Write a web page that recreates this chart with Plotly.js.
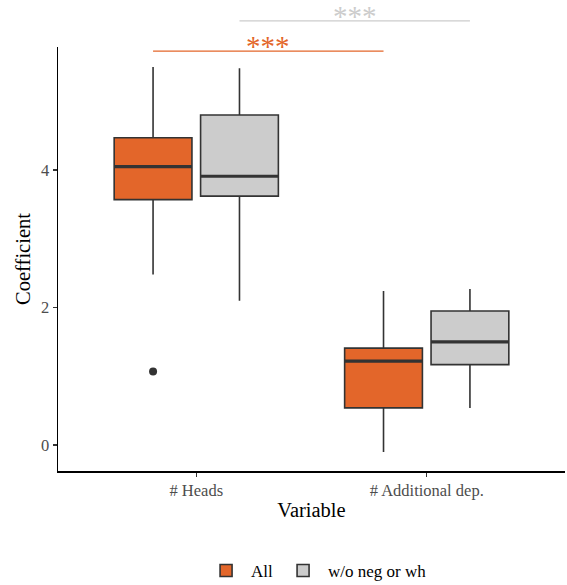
<!DOCTYPE html>
<html>
<head>
<meta charset="utf-8">
<script src="https://cdn.plot.ly/plotly-3.0.1.min.js"></script>
<style>html,body{margin:0;padding:0;background:#fff;}#chart{width:567px;height:585px;}</style>
</head>
<body>
<div id="chart"></div>
<script>
// ---- data ----
const categories = ['# Heads', '# Additional dep.'];
const seriesNames = ['All', 'w/o neg or wh'];
const seriesColors = ['#E3662A', '#CCCCCC'];
const sigColors = ['#E3662A', '#CCCCCC'];

const allLower  = [2.48, -0.10];
const allQ1     = [3.57, 0.54];
const allMedian = [4.05, 1.22];
const allQ3     = [4.47, 1.41];
const allUpper  = [5.50, 2.24];
const allOutliers = [[1.07], []];

const woLower  = [2.10, 0.54];
const woQ1     = [3.62, 1.17];
const woMedian = [3.91, 1.50];
const woQ3     = [4.80, 1.95];
const woUpper  = [5.48, 2.27];
const woOutliers = [[], []];

const sigLabels = ['***', '***'];
const sigLevels = [5.73, 6.17];

// ---- layout helpers ----
const FONT = 'Liberation Serif, Times New Roman, serif';
const dodge = 0.1875, boxW = 0.3375;
const yRange = [-0.378, 5.79];
const offsets = [-dodge, dodge];
const stats = [
  {lo: allLower, q1: allQ1, med: allMedian, q3: allQ3, hi: allUpper, out: allOutliers},
  {lo: woLower, q1: woQ1, med: woMedian, q3: woQ3, hi: woUpper, out: woOutliers}
];

const traces = [];
const shapes = [];
const annotations = [];
stats.forEach((s, k) => {
  const xs = categories.map((c, i) => i + offsets[k]);
  traces.push({
    type: 'box', name: seriesNames[k], x: xs,
    q1: s.q1, median: s.med, q3: s.q3, lowerfence: s.lo, upperfence: s.hi,
    width: boxW, whiskerwidth: 0, boxpoints: false,
    fillcolor: seriesColors[k], line: {color: '#333333', width: 1.6},
    hoverinfo: 'skip'
  });
  // outliers
  const ox = [], oy = [];
  s.out.forEach((arr, i) => arr.forEach(v => { ox.push(i + offsets[k]); oy.push(v); }));
  if (ox.length) {
    traces.push({type: 'scatter', mode: 'markers', x: ox, y: oy, showlegend: false,
      marker: {color: '#333333', size: 8}, hoverinfo: 'skip'});
  }
  // thick median lines
  s.med.forEach((m, i) => {
    shapes.push({type: 'line', xref: 'x', yref: 'y', x0: i + offsets[k] - boxW / 2, x1: i + offsets[k] + boxW / 2,
      y0: m, y1: m, line: {color: '#333333', width: 3.2}});
  });
  // significance bars (connect same series across the two variables)
  const py = (sigLevels[k] - yRange[0]) / (yRange[1] - yRange[0]);
  shapes.push({type: 'line', xref: 'x', yref: 'paper', x0: 0 + offsets[k], x1: 1 + offsets[k],
    y0: py, y1: py, line: {color: sigColors[k], width: 1.3}});
  annotations.push({xref: 'x', yref: 'paper', x: 0.5 + offsets[k], y: py, text: sigLabels[k],
    showarrow: false, yanchor: 'middle', yshift: 5, font: {family: FONT, size: 29, color: sigColors[k]}});
});

const layout = {
  width: 567, height: 585,
  margin: {l: 57.5, r: 1.5, t: 47, b: 114},
  paper_bgcolor: '#ffffff', plot_bgcolor: '#ffffff',
  font: {family: FONT, color: '#000000'},
  showlegend: true,
  legend: {orientation: 'h', x: 0.51, xanchor: 'center', yref: 'container', y: 0.024, yanchor: 'middle',
    font: {family: FONT, size: 17, color: '#000000'}, itemwidth: 40},
  xaxis: {
    range: [-0.6, 1.6], tickmode: 'array', tickvals: categories.map((c, i) => i), ticktext: categories,
    showgrid: false, zeroline: false, showline: true, linecolor: '#000000', linewidth: 1.5,
    ticks: 'outside', ticklen: 4, tickwidth: 1.5, tickcolor: '#333333',
    tickfont: {family: FONT, size: 16.5, color: '#4D4D4D'},
    title: {text: 'Variable', font: {family: FONT, size: 20.5, color: '#000000'}, standoff: 3}
  },
  yaxis: {
    range: yRange, tickvals: [0, 2, 4],
    showgrid: false, zeroline: false, showline: true, linecolor: '#000000', linewidth: 1.5,
    ticks: 'outside', ticklen: 4, tickwidth: 1.5, tickcolor: '#333333',
    tickfont: {family: FONT, size: 16.5, color: '#4D4D4D'},
    title: {text: 'Coefficient', font: {family: FONT, size: 20.5, color: '#000000'}, standoff: 5}
  },
  shapes: shapes,
  annotations: annotations
};

Plotly.newPlot('chart', traces, layout, {displayModeBar: false, staticPlot: true});
</script>
</body>
</html>
